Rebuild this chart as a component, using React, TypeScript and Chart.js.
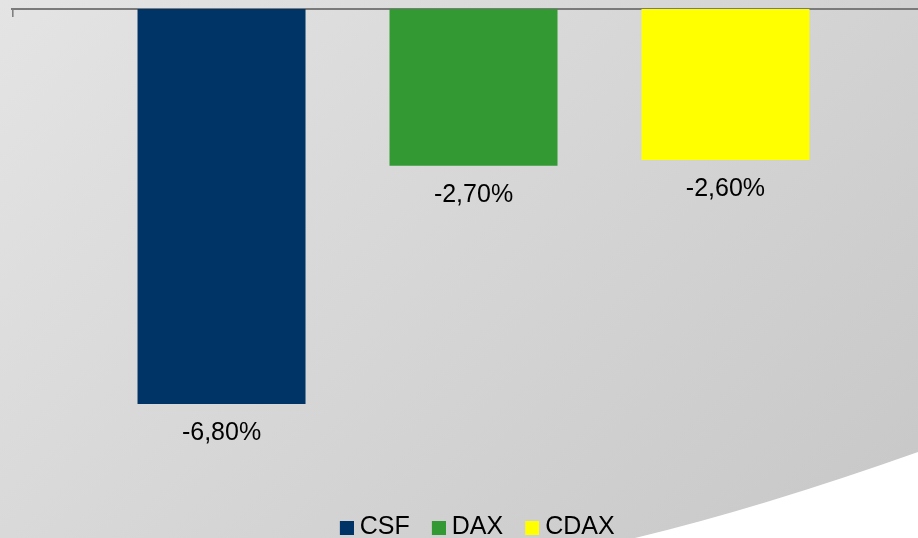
import React, { useEffect, useRef } from 'react';
import { Chart, registerables } from 'chart.js';

Chart.register(...registerables);

// ---- data ----
const categories = [''];
const seriesNames = ['CSF', 'DAX', 'CDAX'];
const csfValues = [-6.8];
const daxValues = [-2.7];
const cdaxValues = [-2.6];
const seriesColors = ['#003366', '#339933', '#ffff00'];

const FONT = '"Liberation Sans", Arial, sans-serif';

const fmt = (v: number) => v.toFixed(2).replace('.', ',') + '%';

function makeLegendBox(color: string): HTMLCanvasElement {
  const c = document.createElement('canvas');
  c.width = 28;
  c.height = 14;
  const g = c.getContext('2d')!;
  g.fillStyle = color;
  g.fillRect(14, 0, 14, 14);
  return c;
}

const backgroundPlugin = {
  id: 'bgPlugin',
  beforeDraw(chart: any) {
    const ctx = chart.ctx as CanvasRenderingContext2D;
    ctx.save();
    const grad = ctx.createLinearGradient(0, 0, 709, 739);
    grad.addColorStop(0, 'rgb(228,228,228)');
    grad.addColorStop(1, 'rgb(199,199,199)');
    ctx.fillStyle = grad;
    ctx.fillRect(0, 0, chart.width, chart.height);
    ctx.beginPath();
    ctx.moveTo(635, 538);
    ctx.quadraticCurveTo(760, 508, 918, 452);
    ctx.lineTo(970, 434);
    ctx.lineTo(970, 570);
    ctx.lineTo(635, 570);
    ctx.closePath();
    ctx.fillStyle = '#ffffff';
    ctx.fill();
    ctx.restore();
  },
};

const dataLabelPlugin = {
  id: 'dataLabels',
  afterDatasetsDraw(chart: any) {
    const ctx = chart.ctx as CanvasRenderingContext2D;
    ctx.save();
    ctx.font = `25px ${FONT}`;
    ctx.fillStyle = '#000000';
    ctx.textAlign = 'center';
    ctx.textBaseline = 'middle';
    chart.data.datasets.forEach((ds: any, di: number) => {
      const meta = chart.getDatasetMeta(di);
      meta.data.forEach((el: any, i: number) => {
        const v = ds.data[i] as number;
        ctx.fillText(fmt(v), el.x, el.y + 29);
      });
    });
    ctx.restore();
  },
};

const axisTickPlugin = {
  id: 'axisTick',
  afterDraw(chart: any) {
    const ctx = chart.ctx as CanvasRenderingContext2D;
    const xs = chart.scales.x;
    ctx.save();
    ctx.strokeStyle = '#808080';
    ctx.lineWidth = 1.6;
    ctx.beginPath();
    ctx.moveTo(xs.left + 0.8, chart.chartArea.top);
    ctx.lineTo(xs.left + 0.8, chart.chartArea.top + 8);
    ctx.stroke();
    ctx.restore();
  },
};

export default function App() {
  const ref = useRef<HTMLCanvasElement>(null);

  useEffect(() => {
    document.body.style.margin = '0';
    document.body.style.overflow = 'hidden';
    const canvas = ref.current!;
    const seriesData = [csfValues, daxValues, cdaxValues];
    const boxes = seriesColors.map(makeLegendBox);
    const chart = new Chart(canvas, {
      type: 'bar',
      data: {
        labels: categories,
        datasets: seriesNames.map((name, i) => ({
          label: name,
          data: seriesData[i],
          backgroundColor: seriesColors[i],
          borderWidth: 0,
          categoryPercentage: 0.819,
          barPercentage: 0.6667,
        })),
      },
      options: {
        responsive: false,
        animation: false,
        devicePixelRatio: 1,
        layout: { padding: { top: 9, left: 12, right: 19, bottom: 0 } },
        scales: {
          x: {
            position: 'top',
            z: 1,
            grid: { display: false, drawTicks: false, tickLength: 0 },
            ticks: { display: false },
            border: { display: true, color: '#7a7a7a', width: 2 },
          },
          y: {
            display: false,
            min: -8.46,
            max: 0,
          },
        },
        plugins: {
          tooltip: { enabled: false },
          legend: {
            position: 'bottom',
            labels: {
              usePointStyle: true,
              pointStyleWidth: 15,
              padding: 14.5,
              color: '#000000',
              font: { family: FONT, size: 25 },
              generateLabels: (ch: any) => {
                const items = (Chart.defaults.plugins.legend.labels as any).generateLabels(ch);
                return items.map((it: any, i: number) => ({
                  ...it,
                  pointStyle: boxes[i],
                  lineWidth: 0,
                }));
              },
            },
          },
        },
      },
      plugins: [backgroundPlugin, dataLabelPlugin, axisTickPlugin],
    } as any);
    return () => chart.destroy();
  }, []);

  return (
    <div
      style={{
        position: 'fixed',
        left: 0,
        top: 0,
        width: 918,
        height: 538,
        overflow: 'hidden',
      }}
    >
      <canvas ref={ref} width={954} height={550} style={{ display: 'block' }} />
    </div>
  );
}
